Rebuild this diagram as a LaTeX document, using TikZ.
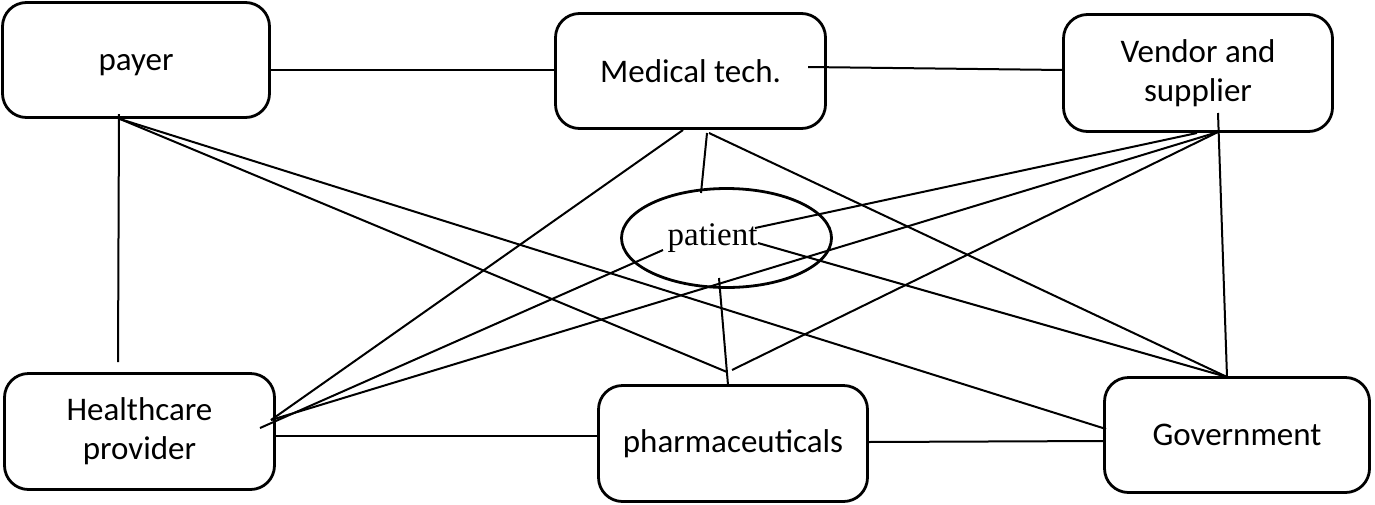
\documentclass[tikz,border=0pt]{standalone}
\usepackage{fontspec}
\usetikzlibrary{shapes.geometric}
\setmainfont{Carlito}
\newfontfamily\patfont{Liberation Serif}
\begin{document}
\begin{tikzpicture}[x=1pt,y=-1pt,
  box/.style={draw, line width=2.8pt, rounded corners=24pt, inner sep=0pt, align=center,
    font=\fontsize{33}{39}\selectfont},
  conn/.style={line width=2pt}]
\useasboundingbox (0,0) rectangle (1375,504);
\node[box, minimum width=267pt, minimum height=115pt, text height=24pt, text depth=4pt] (payer) at (136,60) {payer};
\node[box, minimum width=270pt, minimum height=115pt] (med) at (690.5,71) {Medical tech.};
\node[box, minimum width=269pt, minimum height=117pt] (vendor) at (1198,73) {Vendor and\\supplier};
\node[box, minimum width=270pt, minimum height=116pt] (health) at (139.5,431.5) {Healthcare\\provider};
\node[box, minimum width=269pt, minimum height=116pt] (pharma) at (733,443.5) {pharmaceuticals};
\node[box, minimum width=265pt, minimum height=115pt] (gov) at (1237,435) {Government};
\node[draw, ellipse, line width=2.8pt, minimum width=210pt, minimum height=99pt, inner sep=0pt,
  font=\patfont\fontsize{33}{39}\selectfont] (patient) at (726.5,238) {patient\kern28pt};
% connector end points
\coordinate (payR) at (270,70);
\coordinate (medL) at (555,70);
\coordinate (medR) at (808,67);
\coordinate (venL) at (1063,70);
\coordinate (payHub) at (120,119);
\coordinate (payV) at (119,114);
\coordinate (healthTop) at (118,362);
\coordinate (pharmaA) at (727,372);
\coordinate (govL) at (1106,429);
\coordinate (medA) at (683,130);
\coordinate (medB) at (707,133);
\coordinate (medC) at (709,133);
\coordinate (healthHub) at (271,420);
\coordinate (healthEnd) at (260,428);
\coordinate (patTop) at (701,193);
\coordinate (patL) at (663,250);
\coordinate (patR1) at (755,228);
\coordinate (patR2) at (758,243);
\coordinate (patB) at (719,278);
\coordinate (pharmaTop) at (728,385);
\coordinate (pharmaB) at (732,370);
\coordinate (govHub) at (1227,377);
\coordinate (venHub) at (1218,132);
\coordinate (venTop) at (1218,113);
\coordinate (venEnd) at (1197,133);
\coordinate (healthR) at (275,436);
\coordinate (pharmaL) at (598,436);
\coordinate (pharmaR) at (868,442);
\coordinate (govL2) at (1104,441);
% connectors
\draw[conn] (payR) -- (medL);
\draw[conn] (medR) -- (venL);
\draw[conn] (payV) -- (healthTop);
\draw[conn] (payHub) -- (pharmaA);
\draw[conn] (payHub) -- (govL);
\draw[conn] (medA) -- (healthHub);
\draw[conn] (medB) -- (patTop);
\draw[conn] (medC) -- (govHub);
\draw[conn] (patL) -- (healthEnd);
\draw[conn] (patR1) -- (venEnd);
\draw[conn] (patR2) -- (govHub);
\draw[conn] (patB) -- (pharmaTop);
\draw[conn] (venHub) -- (healthHub);
\draw[conn] (venHub) -- (pharmaB);
\draw[conn] (venTop) -- (govHub);
\draw[conn] (healthR) -- (pharmaL);
\draw[conn] (pharmaR) -- (govL2);
\end{tikzpicture}
\end{document}
